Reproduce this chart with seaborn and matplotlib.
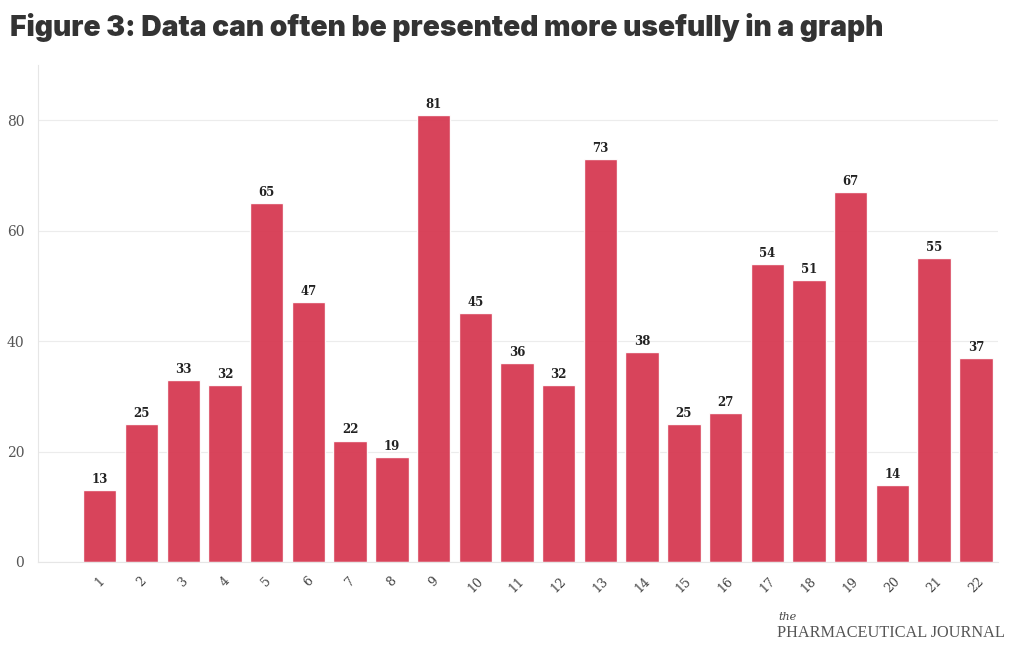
import matplotlib
matplotlib.use("Agg")
import matplotlib.pyplot as plt
import seaborn as sns
import pandas as pd

categories = [str(i) for i in range(1, 23)]
values = [13, 25, 33, 32, 65, 47, 22, 19, 81, 45, 36, 32, 73, 38, 25, 27, 54, 51, 67, 14, 55, 37]
title = "Figure 3: Data can often be presented more usefully in a graph"
y_ticks = [0, 20, 40, 60, 80]

df = pd.DataFrame({"cat": categories, "val": values})

sns.set_theme(style="white")
fig = plt.figure(figsize=(10.2, 6.5), dpi=100)
ax = fig.add_axes([0.0373, 0.1354, 0.9407, 0.7646])

sns.barplot(data=df, x="cat", y="val", order=categories, color="#d63a52",
            width=0.8, saturation=1, alpha=0.95, ax=ax)

ax.set_xlim(-1.48, 21.52)
ax.set_ylim(0, 90)
ax.set_yticks(y_ticks)
ax.set_xlabel("")
ax.set_ylabel("")
ax.yaxis.grid(True, color="#ececec", linewidth=0.8)
ax.set_axisbelow(True)
for s in ["top", "right"]:
    ax.spines[s].set_visible(False)
for s in ["left", "bottom"]:
    ax.spines[s].set_color("#e6e6e6")
    ax.spines[s].set_linewidth(0.8)
ax.tick_params(axis="x", length=5, color="#e6e6e6", width=0.8, pad=4)
ax.tick_params(axis="y", length=0, pad=10)
for lab in ax.get_xticklabels():
    lab.set_rotation(45)
    lab.set_fontfamily("DejaVu Serif")
    lab.set_fontsize(9)
    lab.set_color("#444444")
for lab in ax.get_yticklabels():
    lab.set_fontfamily("DejaVu Serif")
    lab.set_fontsize(10)
    lab.set_color("#555555")

for cont in ax.containers:
    ax.bar_label(cont, labels=[str(v) for v in values], padding=3,
                 fontfamily="DejaVu Serif", fontweight="bold", fontsize=8.5, color="#222222")

fig.text(0.0098, 0.957, title, fontsize=20.3, fontweight="black", family="Inter",
         color="#333333", va="center", ha="left")

fig.text(0.763, 0.046, "the", fontsize=8, style="italic", family="DejaVu Serif", color="#444444")
fig.text(0.762, 0.02, "PHARMACEUTICAL JOURNAL", fontsize=11.7, family="Liberation Serif", color="#555555")

fig.savefig("out.png", dpi=100)
